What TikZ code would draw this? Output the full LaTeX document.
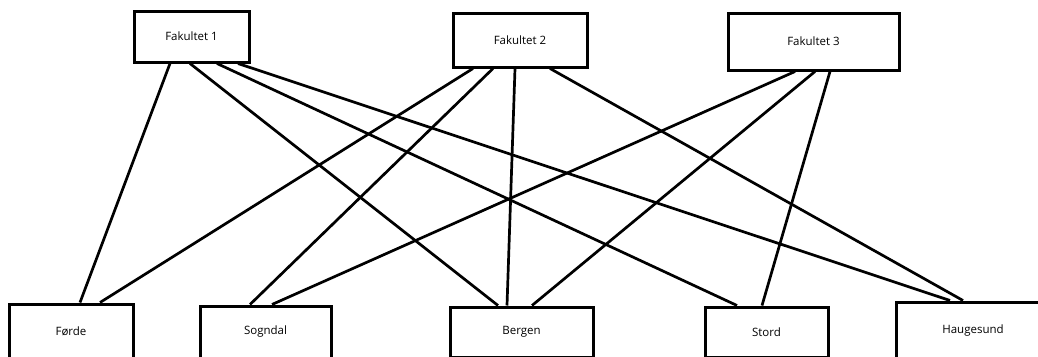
\documentclass[tikz,border=0pt]{standalone}
\usepackage{fontspec}
\setmainfont{Open Sans}
\usepackage{tikz}

\begin{document}
\begin{tikzpicture}[x=1pt, y=-1pt,
  box/.style={draw, line width=3pt, inner sep=0pt, font=\fontsize{11.5}{13}\selectfont},
  link/.style={line width=2.7pt}]
\useasboundingbox (0,0) rectangle (1038,356);
\clip (0,0) rectangle (1038,356);
% faculties
\node[box, minimum width=115, minimum height=51] (f1) at (191.5,36.5) {Fakultet 1};
\node[box, minimum width=134, minimum height=54] (f2) at (520,40) {Fakultet 2};
\node[box, minimum width=171, minimum height=57] (f3) at (813.5,41.5) {Fakultet 3};
% campuses
\node[box, minimum width=124, minimum height=54] (forde) at (71,331) {Førde};
\node[box, minimum width=131, minimum height=52] (sogndal) at (265.5,332) {Sogndal};
\node[box, minimum width=143, minimum height=50] (bergen) at (521.5,332) {Bergen};
\node[box, minimum width=123, minimum height=50] (stord) at (766.5,332) {Stord};
\node[box, minimum width=154, minimum height=58] (haugesund) at (973,331) {Haugesund};
% links
\foreach \a/\da/\b/\db in {f1/-21.5/forde/9, f1/-1.5/bergen/-23.5, f1/25.5/stord/-29.5,
  f1/46.5/haugesund/-23, f2/-47/forde/29, f2/-27/sogndal/-15.5, f2/-5/bergen/-14.5,
  f2/30/haugesund/-10, f3/-18.5/sogndal/6.5, f3/1.5/bergen/10.5, f3/16.5/stord/-4.5}{
	\draw[link] ([xshift=\da]\a.south) -- ([xshift=\db]\b.north);
	}
\end{tikzpicture}
\end{document}
